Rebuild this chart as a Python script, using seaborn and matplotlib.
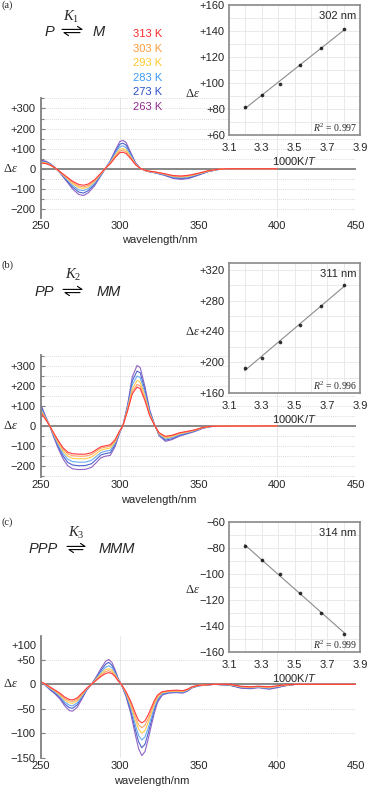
import numpy as np
import pandas as pd
import matplotlib
matplotlib.use("Agg")
import matplotlib.pyplot as plt
import matplotlib.transforms as mtransforms
from matplotlib.lines import Line2D
from matplotlib.ticker import MultipleLocator, FuncFormatter
import seaborn as sns

sns.set_style("white")
plt.rcParams["font.family"] = ["Liberation Sans", "DejaVu Sans"]
plt.rcParams["mathtext.fontset"] = "custom"
plt.rcParams["mathtext.rm"] = "Liberation Serif"
plt.rcParams["mathtext.it"] = "Liberation Serif:italic"
plt.rcParams["mathtext.bf"] = "Liberation Sans:italic"

# temperatures, legend colours
temps = ["313 K", "303 K", "293 K", "283 K", "273 K", "263 K"]
text_colors = ["#ff2b2b", "#ff9a3a", "#ffc82f", "#3b9bf5", "#2a52c9", "#8f2c8c"]
line_colors = ["#ff3b3b", "#ff9f6a", "#ffcc4d", "#6aaaf0", "#4c63cc", "#9063c6"]

# (a) P <-> M spectra
wl_a = [250, 253, 256, 259, 262, 266, 270, 274, 277, 280, 284, 288, 291, 294, 297, 300,
        302, 304, 307, 310, 313, 317, 322, 328, 334, 339, 344, 350, 356, 362, 368, 400]
a313 = [28, 26, 17, 4, -14, -38, -62, -78, -82, -76, -55, -22, 3, 25, 55, 80,
        82, 76, 50, 20, 2, -10, -15, -24, -34, -36, -32, -22, -10, -3, 0, 0]
a303 = [30, 28, 18, 4, -15, -41, -68, -86, -90, -83, -60, -24, 3, 27, 60, 88,
        91, 84, 55, 22, 2, -10, -16, -25, -36, -39, -34, -24, -11, -3, 0, 0]
a293 = [32, 30, 19, 4, -16, -45, -74, -94, -98, -90, -64, -26, 3, 30, 66, 97,
        100, 93, 59, 23, 2, -11, -17, -26, -38, -41, -37, -25, -12, -3, 0, 0]
a283 = [35, 32, 21, 5, -17, -50, -82, -105, -109, -99, -71, -29, 3, 33, 74, 109,
        114, 105, 66, 25, 2, -11, -18, -28, -41, -45, -40, -27, -13, -4, 0, 0]
a273 = [39, 35, 23, 5, -19, -55, -91, -116, -121, -109, -78, -32, 3, 36, 82, 122,
        127, 118, 73, 28, 2, -12, -19, -30, -45, -49, -44, -30, -14, -4, 0, 0]
a263 = [42, 38, 25, 5, -20, -60, -100, -128, -133, -120, -85, -35, 3, 40, 90, 135,
        141, 131, 80, 30, 2, -12, -20, -32, -48, -53, -48, -32, -15, -4, 0, 0]

# (b) PP <-> MM spectra
wl_b = [250, 253, 255.5, 258, 261, 264, 267, 270, 274, 278, 282, 285, 288, 291, 294, 297, 300, 302,
        305, 308, 311, 313, 316, 319, 322, 325, 329, 333, 338, 343, 348, 353, 358, 365, 400]
b313 = [65, 30, 0, -35, -75, -110, -132, -140, -142, -142, -135, -120, -105, -100, -95, -70, -25, 0,
        75, 160, 193, 185, 125, 50, 3, -35, -53, -48, -35, -28, -20, -8, -3, -2, -1]
b303 = [70, 32, 0, -38, -80, -117, -141, -150, -152, -152, -144, -128, -112, -107, -102, -75, -26, 0,
        79, 171, 206, 199, 134, 54, 4, -37, -56, -51, -37, -30, -21, -9, -3, -2, -1]
b293 = [77, 35, 0, -41, -87, -127, -152, -163, -165, -165, -157, -140, -122, -116, -111, -81, -28, 0,
        84, 186, 226, 217, 147, 59, 5, -40, -61, -55, -40, -32, -22, -9, -3, -2, -1]
b283 = [86, 38, 0, -45, -96, -139, -167, -179, -182, -182, -173, -154, -134, -127, -123, -88, -30, 0,
        91, 205, 248, 240, 162, 66, 6, -43, -66, -59, -44, -34, -24, -10, -4, -2, -1]
b273 = [95, 41, 0, -50, -105, -151, -183, -196, -200, -199, -190, -169, -146, -139, -135, -96, -33, 0,
        98, 225, 273, 264, 178, 73, 7, -46, -72, -65, -48, -37, -26, -11, -4, -2, -1]
b263 = [105, 45, 0, -55, -115, -165, -200, -215, -219, -218, -208, -185, -160, -152, -148, -105, -35, 0,
        105, 245, 301, 290, 195, 80, 8, -50, -78, -70, -52, -40, -28, -12, -4, -2, -1]

# (c) PPP <-> MMM spectra
wl_c = [250, 253, 256, 259, 262, 265, 268, 270, 273, 276, 279, 282, 285, 288, 291, 293, 295, 297,
        299, 301, 304, 307, 310, 312, 314, 316, 318, 320, 322, 324, 327, 331, 336, 340, 343, 346,
        350, 360, 370, 377, 383, 388, 395, 400, 405, 412, 450]
c313 = [5, 0, -6, -12, -18, -26, -31, -32, -28, -18, -8, 0, 8, 16, 22, 24, 22, 16,
        7, 0, -15, -35, -60, -74, -79, -75, -63, -48, -33, -22, -15, -13, -12, -13, -10, -5,
        -2, 0, 0, -4, -5, -4, -5, -3, -1, 0, 0]
c303 = [5, 0, -7, -13, -20, -29, -34, -35, -31, -20, -9, 0, 9, 18, 26, 28, 25, 18,
        8, 0, -17, -39, -67, -83, -89, -84, -71, -54, -37, -24, -16, -14, -13, -14, -11, -5,
        -2, 0, 0, -5, -6, -4, -6, -4, -1, 0, 0]
c293 = [5, -1, -8, -14, -22, -32, -38, -39, -34, -22, -9, 0, 10, 21, 30, 32, 29, 20,
        9, 0, -18, -43, -74, -92, -100, -95, -79, -59, -41, -27, -17, -15, -14, -15, -11, -6,
        -2, 0, -1, -5, -6, -5, -7, -4, -2, 0, 0]
c283 = [5, -2, -9, -16, -24, -36, -43, -44, -38, -24, -10, 0, 12, 24, 35, 38, 34, 23,
        10, 0, -20, -48, -84, -105, -114, -108, -90, -68, -46, -30, -19, -16, -15, -16, -12, -6,
        -3, 0, -1, -6, -7, -6, -8, -5, -2, 0, 0]
c273 = [5, -2, -11, -18, -27, -40, -48, -49, -42, -27, -11, 0, 13, 28, 41, 45, 39, 27,
        11, 0, -23, -54, -94, -118, -130, -123, -101, -76, -52, -33, -20, -17, -16, -17, -13, -7,
        -3, 0, -2, -7, -8, -6, -9, -6, -3, 0, 0]
c263 = [5, -3, -12, -20, -30, -44, -54, -55, -47, -30, -12, 0, 15, 32, 47, 51, 45, 30,
        12, 0, -25, -60, -105, -132, -146, -138, -113, -85, -58, -37, -22, -18, -17, -18, -14, -7,
        -3, 0, -2, -8, -9, -7, -10, -7, -3, 0, 0]

# van 't Hoff style insets
inv_T = [3.195, 3.300, 3.413, 3.534, 3.663, 3.802]
de_302 = [81.7, 90.5, 99.5, 113.7, 127.2, 141.4]
de_311 = [193, 206, 225.7, 248, 273, 301]
de_314 = [-78.7, -89, -100.3, -114.4, -129.7, -145.9]

W, H = 371, 787
GRAY = "#7f7f7f"
fig = plt.figure(figsize=(W / 100, H / 100), dpi=100)


def rect(x0, y0, x1, y1):
    return [x0 / W, 1 - y1 / H, (x1 - x0) / W, (y1 - y0) / H]


def signed(v, pos=None):
    if abs(v) < 1e-9:
        return "0"
    return f"+{v:g}" if v > 0 else f"\u2212{abs(v):g}"


def spectrum(box, wl, series, ylim, major, minor, xlab_x, hide_top=False):
    ax = fig.add_axes(rect(*box))
    ax.set_facecolor("none")
    frames = [pd.DataFrame({"wl": wl, "de": v, "T": t}) for t, v in zip(temps, series)]
    df = pd.concat(frames, ignore_index=True)
    ax.axhline(0, color=GRAY, lw=1.3, zorder=1.5)
    for xv in (300, 400, 450):
        ax.axvline(xv, color="#e3e3e3", lw=0.6, zorder=0)
    sns.lineplot(data=df, x="wl", y="de", hue="T", hue_order=temps[::-1],
                 palette=dict(zip(temps, line_colors)), estimator=None, sort=False,
                 lw=0.8, legend=False, ax=ax, zorder=2)
    ax.set_xlim(250, 450)
    ax.set_ylim(*ylim)
    for s in ("top", "right", "bottom"):
        ax.spines[s].set_visible(False)
    ax.spines["left"].set_color(GRAY)
    ax.spines["left"].set_linewidth(1.3)
    ax.yaxis.set_major_locator(MultipleLocator(major))
    ax.yaxis.set_minor_locator(MultipleLocator(minor))
    fmt = signed
    if hide_top:
        fmt = lambda v, pos=None: "" if v >= 99 else signed(v)
    ax.yaxis.set_major_formatter(FuncFormatter(fmt))
    ax.yaxis.grid(True, which="both", ls=(0, (1, 1.5)), color="#cfcfcf", lw=0.6)
    ax.tick_params(axis="y", which="both", direction="in", color=GRAY, width=0.8,
                   labelsize=8, pad=4, left=True)
    ax.tick_params(axis="y", which="major", length=3)
    ax.tick_params(axis="y", which="minor", length=2)
    ax.set_xticks([250, 300, 350, 400, 450])
    ax.tick_params(axis="x", length=0, labelsize=8, pad=2)
    ax.set_xlabel("wavelength/nm", fontsize=8)
    ax.xaxis.set_label_coords(xlab_x, -0.145)
    ax.set_ylabel("")
    tr = mtransforms.blended_transform_factory(ax.transAxes, ax.transData)
    ax.text(-0.098, 0, r"$\Delta\varepsilon$", transform=tr, ha="center", va="center", fontsize=9)
    if hide_top:
        off = mtransforms.offset_copy(tr, fig=fig, y=-10, units="dots")
        ax.text(-0.016, 100, "+100", transform=off, ha="right", va="center", fontsize=8)
    return ax


def inset(box, y, ylim, step, nm, r2, dey):
    ax = fig.add_axes(rect(*box), zorder=5)
    ax.set_facecolor("white")
    sns.regplot(x=inv_T, y=y, ci=None, ax=ax, color="black",
                scatter_kws={"s": 7, "zorder": 4, "linewidths": 0},
                line_kws={"color": "#8c8c8c", "lw": 0.8, "zorder": 3})
    ax.set_xlim(3.1, 3.9)
    ax.set_ylim(*ylim)
    ax.set_xticks([3.1, 3.3, 3.5, 3.7, 3.9])
    ax.xaxis.set_major_formatter(FuncFormatter(lambda v, p: f"{v:.1f}"))
    ax.xaxis.set_minor_locator(MultipleLocator(0.1))
    ax.yaxis.set_major_locator(MultipleLocator(step))
    ax.yaxis.set_minor_locator(MultipleLocator(step / 2))
    ax.yaxis.set_major_formatter(FuncFormatter(signed))
    ax.grid(True, which="both", color="#e6e6e6", lw=0.6)
    ax.set_axisbelow(True)
    for s in ax.spines.values():
        s.set_visible(True)
        s.set_color("#8a8a8a")
        s.set_linewidth(1.2)
    ax.tick_params(axis="both", which="both", length=0, labelsize=8)
    ax.tick_params(axis="x", pad=6)
    ax.tick_params(axis="y", pad=3)
    ax.set_xlabel(r"1000K/$\mathbf{T}$", fontsize=8, labelpad=1)
    ax.set_ylabel("")
    ax.text(-0.275, dey, r"$\Delta\varepsilon$", transform=ax.transAxes,
            ha="center", va="center", fontsize=9)
    ax.text(0.975, 0.915, nm, transform=ax.transAxes, ha="right", va="center", fontsize=8)
    ax.text(0.98, 0.055, r"$R^2$ = " + r2, transform=ax.transAxes, ha="right", va="center",
            fontsize=7, family="Liberation Serif")
    return ax


def ftext(x, y, s, **kw):
    fig.text(x / W, 1 - y / H, s, **kw)


def equilibrium(x0, x1, y):
    def seg(pts):
        xs = [p[0] / W for p in pts]
        ys = [1 - p[1] / H for p in pts]
        fig.add_artist(Line2D(xs, ys, color="black", lw=0.8, transform=fig.transFigure))
    seg([(x0, y - 1.6), (x1, y - 1.6), (x1 - 4.5, y - 4.6)])
    seg([(x1 - 2, y + 1.6), (x0 + 2, y + 1.6), (x0 + 6.5, y + 4.6)])


def reaction(letter, ly, left, lx, right, rx, ax0, ax1, ry, k, kx, ky):
    ftext(2, ly, letter, family="Liberation Serif", fontsize=7.5, va="center")
    ftext(lx, ry, left, fontsize=10.5, style="italic", ha="center", va="center")
    ftext(rx, ry, right, fontsize=10.5, style="italic", ha="center", va="center")
    equilibrium(ax0, ax1, ry - 1)
    ftext(kx, ky, k, fontsize=10.5, ha="center", va="center")


# panel (a)
spectrum((41, 98, 356, 218), wl_a, [a313, a303, a293, a283, a273, a263],
         (-245, 352), 100, 50, 0.378)
inset((229, 5, 360, 135), de_302, (60, 160), 20, "302 nm", "0.997", 0.315)
reaction("(a)", 5, "P", 49, "M", 98.5, 62, 82, 32, r"$K_1$", 71, 17)
for i, (t, c) in enumerate(zip(temps, text_colors)):
    ftext(133, 34 + i * 14.6, t, color=c, fontsize=8, va="center")

# panel (b)
spectrum((41, 355, 356, 477), wl_b, [b313, b303, b293, b283, b273, b263],
         (-256, 353), 100, 50, 0.375)
inset((229, 263, 360, 393), de_311, (160, 329), 40, "311 nm", "0.996", 0.47)
reaction("(b)", 265, "PP", 44.5, "MM", 108.5, 63, 82, 292, r"$K_2$", 73, 275)

# panel (c)
spectrum((41, 636, 356, 758), wl_c, [c313, c303, c293, c283, c273, c263],
         (-151, 99), 50, 50, 0.352, hide_top=True)
inset((229, 522, 360, 652), de_314, (-160, -60), 20, "314 nm", "0.999", 0.477)
reaction("(c)", 522, "PPP", 43.5, "MMM", 117, 67, 85, 549, r"$K_3$", 76, 533)

fig.savefig("out.png", dpi=100)
